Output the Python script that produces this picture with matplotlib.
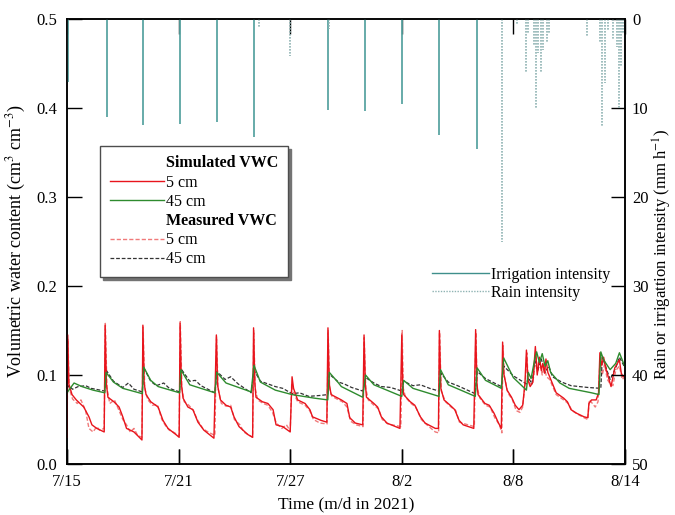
import matplotlib
matplotlib.use("Agg")
import matplotlib.pyplot as plt
from matplotlib.lines import Line2D

plt.rcParams["font.family"] = ["Liberation Serif", "DejaVu Serif"]
plt.rcParams["mathtext.fontset"] = "stix"
plt.rcParams["font.size"] = 12

# -----------------------------
# Data (days since 7/15/2021)
# -----------------------------
tick_days = [0, 6, 12, 18, 24, 30]
tick_labels = ["7/15", "7/21", "7/27", "8/2", "8/8", "8/14"]

# simulated VWC, 5 cm
sim5_day = [0.00, 0.04, 0.10, 0.27, 0.50, 0.90, 1.18, 1.34, 1.60, 2.00,
            2.05, 2.12, 2.20, 2.52, 2.80, 3.00, 3.20, 3.60, 4.03,
            4.08, 4.15, 4.25, 4.50, 4.90, 5.16, 5.43, 5.86, 6.03,
            6.08, 6.15, 6.24, 6.50, 6.77, 7.04, 7.36, 7.90,
            8.03, 8.10, 8.25, 8.55, 8.80, 8.98, 9.25, 9.73, 9.98,
            10.03, 10.10, 10.16, 10.50, 10.80, 11.08, 11.24, 11.60, 12.00,
            12.10, 12.18, 12.40, 12.80, 13.06, 13.20, 13.66, 13.97,
            14.03, 14.10, 14.20, 14.57, 14.75, 15.05, 15.20, 15.50, 15.90,
            15.97, 16.04, 16.10, 16.50, 16.70, 16.90, 17.20, 17.90,
            18.00, 18.05, 18.10, 18.45, 18.70, 19.00, 19.25, 19.80, 19.97,
            20.02, 20.10, 20.27, 20.60, 20.85, 21.08, 21.30, 21.87,
            21.97, 22.04, 22.10, 22.47, 22.70, 22.96, 23.20, 23.35,
            23.42, 23.48, 23.66, 23.90, 24.10, 24.30, 24.50, 24.62, 24.70, 24.78,
            24.90, 25.05, 25.18, 25.28, 25.40, 25.50, 25.58, 25.68, 25.75, 25.85,
            25.95, 26.30, 26.70, 26.90, 27.10, 27.40, 27.80, 28.00, 28.06, 28.20,
            28.45, 28.58, 28.65, 28.75, 28.85, 29.00, 29.10, 29.25, 29.45, 29.70,
            29.80, 29.90, 30.00]
sim5_vwc = [0.030, 0.145, 0.090, 0.078, 0.072, 0.064, 0.053, 0.044, 0.040, 0.036,
            0.156, 0.090, 0.075, 0.070, 0.064, 0.053, 0.040, 0.036, 0.027,
            0.156, 0.090, 0.078, 0.070, 0.064, 0.049, 0.040, 0.033, 0.030,
            0.158, 0.090, 0.074, 0.064, 0.061, 0.047, 0.038, 0.029,
            0.145, 0.088, 0.072, 0.066, 0.064, 0.053, 0.042, 0.033, 0.030,
            0.153, 0.090, 0.075, 0.070, 0.068, 0.061, 0.044, 0.042, 0.036,
            0.098, 0.085, 0.072, 0.068, 0.061, 0.053, 0.049, 0.047,
            0.153, 0.090, 0.078, 0.074, 0.072, 0.068, 0.052, 0.046, 0.044,
            0.145, 0.090, 0.075, 0.068, 0.064, 0.053, 0.046, 0.040,
            0.145, 0.090, 0.078, 0.070, 0.066, 0.053, 0.046, 0.040, 0.040,
            0.150, 0.085, 0.072, 0.066, 0.061, 0.049, 0.044, 0.040,
            0.151, 0.090, 0.078, 0.068, 0.066, 0.057, 0.046, 0.040,
            0.137, 0.102, 0.083, 0.075, 0.066, 0.061, 0.066, 0.090, 0.128, 0.095,
            0.087, 0.092, 0.132, 0.100, 0.120, 0.105, 0.113, 0.102, 0.118, 0.103,
            0.098, 0.080, 0.074, 0.070, 0.061, 0.057, 0.053, 0.052, 0.068, 0.072,
            0.072, 0.080, 0.125, 0.111, 0.120, 0.105, 0.098, 0.087, 0.108, 0.117,
            0.102, 0.098, 0.100]

# measured VWC, 5 cm
meas5_day = [0.00, 0.05, 0.12, 0.30, 0.55, 0.75, 1.00, 1.18, 1.40, 1.60, 1.75, 2.00,
             2.06, 2.15, 2.30, 2.55, 2.80, 3.00, 3.20, 3.40, 3.60, 3.80, 4.03,
             4.09, 4.18, 4.35, 4.60, 4.85, 5.10, 5.30, 5.50, 5.70, 6.03,
             6.09, 6.18, 6.30, 6.55, 6.80, 7.00, 7.30, 7.50, 7.95,
             8.04, 8.12, 8.30, 8.55, 8.80, 9.00, 9.30, 9.50, 9.98,
             10.04, 10.12, 10.25, 10.55, 10.80, 11.05, 11.25, 11.55, 11.80, 12.00,
             12.08, 12.18, 12.40, 12.80, 13.05, 13.25, 13.60, 13.98,
             14.04, 14.12, 14.25, 14.60, 14.80, 15.05, 15.25, 15.55, 15.92,
             15.98, 16.06, 16.20, 16.50, 16.75, 16.95, 17.25, 17.95,
             18.02, 18.08, 18.20, 18.50, 18.75, 19.05, 19.35, 19.80, 19.98,
             20.03, 20.12, 20.35, 20.65, 20.90, 21.10, 21.40, 21.90,
             21.98, 22.06, 22.20, 22.50, 22.75, 23.00, 23.25, 23.38,
             23.44, 23.52, 23.70, 23.95, 24.15, 24.35, 24.50, 24.65, 24.72, 24.80,
             24.95, 25.10, 25.20, 25.30, 25.42, 25.55, 25.65, 25.78, 25.95, 26.30,
             26.70, 26.95, 27.15, 27.45, 27.80, 28.00, 28.08, 28.25, 28.40, 28.55,
             28.66, 28.78, 28.90, 29.05, 29.20, 29.35, 29.50, 29.70, 29.85, 30.00]
meas5_vwc = [0.030, 0.140, 0.085, 0.073, 0.068, 0.072, 0.060, 0.040, 0.036, 0.042, 0.038, 0.040,
             0.158, 0.085, 0.068, 0.072, 0.060, 0.050, 0.044, 0.036, 0.040, 0.032, 0.030,
             0.154, 0.085, 0.072, 0.066, 0.067, 0.050, 0.043, 0.038, 0.036, 0.032,
             0.160, 0.085, 0.070, 0.066, 0.060, 0.050, 0.040, 0.037, 0.032,
             0.143, 0.085, 0.068, 0.065, 0.066, 0.050, 0.044, 0.036, 0.030,
             0.150, 0.085, 0.072, 0.068, 0.066, 0.058, 0.046, 0.040, 0.044, 0.037,
             0.090, 0.080, 0.070, 0.066, 0.060, 0.050, 0.046, 0.045,
             0.150, 0.085, 0.076, 0.072, 0.070, 0.064, 0.048, 0.044, 0.042,
             0.142, 0.085, 0.072, 0.066, 0.062, 0.050, 0.045, 0.042,
             0.150, 0.085, 0.075, 0.068, 0.064, 0.050, 0.044, 0.036, 0.035,
             0.148, 0.082, 0.070, 0.064, 0.060, 0.047, 0.045, 0.042,
             0.148, 0.085, 0.074, 0.066, 0.064, 0.052, 0.044, 0.035,
             0.133, 0.098, 0.080, 0.072, 0.060, 0.058, 0.064, 0.095, 0.125, 0.092,
             0.090, 0.098, 0.125, 0.103, 0.115, 0.100, 0.110, 0.098, 0.095, 0.078,
             0.072, 0.068, 0.060, 0.056, 0.052, 0.050, 0.072, 0.068, 0.064, 0.070,
             0.118, 0.100, 0.112, 0.095, 0.090, 0.088, 0.105, 0.110, 0.095, 0.098]

# simulated VWC, 45 cm
sim45_day = [0.00, 0.10, 0.38, 0.80, 1.40, 2.03, 2.10, 2.50, 3.00, 4.05,
             4.12, 4.50, 4.90, 6.05, 6.12, 6.60, 7.95, 8.05, 8.55, 9.90,
             10.05, 10.40, 11.20, 12.10, 13.30, 14.02, 14.10, 14.60, 14.75, 15.90,
             16.05, 16.50, 18.00, 18.10, 18.60, 20.00, 20.08, 20.50, 21.95, 22.05,
             22.50, 23.35, 23.48, 24.00, 24.70, 24.80, 24.95, 25.15, 25.25, 25.40,
             25.55, 25.70, 25.85, 26.00, 26.50, 27.00, 28.20, 28.60, 28.70, 28.85,
             29.20, 29.50, 29.70, 30.00]
sim45_vwc = [0.080, 0.083, 0.091, 0.087, 0.083, 0.080, 0.103, 0.092, 0.085, 0.079,
             0.109, 0.094, 0.087, 0.080, 0.106, 0.089, 0.080, 0.103, 0.091, 0.081,
             0.111, 0.092, 0.083, 0.078, 0.074, 0.072, 0.103, 0.091, 0.087, 0.075,
             0.100, 0.089, 0.076, 0.094, 0.085, 0.076, 0.106, 0.089, 0.076, 0.108,
             0.094, 0.085, 0.119, 0.097, 0.083, 0.103, 0.096, 0.118, 0.126, 0.114,
             0.124, 0.110, 0.116, 0.103, 0.091, 0.085, 0.080, 0.078, 0.126, 0.117,
             0.106, 0.113, 0.125, 0.109]

# measured VWC, 45 cm
meas45_day = [0.00, 0.10, 0.30, 0.60, 1.00, 1.30, 2.03, 2.12, 2.50, 3.00, 3.30, 3.60, 4.05,
              4.13, 4.50, 4.80, 5.20, 5.50, 6.05, 6.13, 6.60, 6.90, 7.20, 7.95,
              8.06, 8.50, 8.80, 9.20, 9.90, 10.06, 10.40, 10.80, 11.20, 11.60,
              12.10, 12.50, 13.00, 13.60, 14.02, 14.10, 14.60, 14.90, 15.30, 15.90,
              16.06, 16.50, 16.90, 17.40, 18.00, 18.10, 18.60, 19.00, 19.50, 20.00,
              20.10, 20.50, 21.00, 21.95, 22.05, 22.50, 23.35, 23.48, 24.00, 24.70,
              24.80, 25.00, 25.15, 25.30, 25.50, 25.70, 25.90, 26.10, 26.60, 27.10,
              28.00, 28.70, 28.78, 28.95, 29.20, 29.50, 29.70, 30.00]
meas45_vwc = [0.085, 0.088, 0.084, 0.087, 0.088, 0.085, 0.082, 0.105, 0.093, 0.086, 0.091, 0.084, 0.081,
              0.108, 0.093, 0.088, 0.091, 0.085, 0.081, 0.107, 0.093, 0.094, 0.088, 0.080,
              0.104, 0.095, 0.098, 0.090, 0.080, 0.105, 0.093, 0.090, 0.087, 0.085,
              0.079, 0.080, 0.076, 0.077, 0.078, 0.101, 0.092, 0.090, 0.086, 0.082,
              0.097, 0.091, 0.087, 0.086, 0.082, 0.093, 0.088, 0.089, 0.085, 0.082,
              0.102, 0.092, 0.088, 0.079, 0.104, 0.096, 0.087, 0.110, 0.099, 0.090,
              0.097, 0.090, 0.116, 0.105, 0.118, 0.103, 0.110, 0.098, 0.092, 0.088,
              0.086, 0.085, 0.120, 0.110, 0.095, 0.108, 0.120, 0.108]

# irrigation and rain intensity (mm/h)
irr_day = [0.05, 2.13, 4.09, 6.08, 8.06, 10.05, 14.03, 16.0, 18.0, 20.0, 22.04]
irr_int = [7.1, 11.0, 11.9, 11.8, 11.6, 13.3, 10.2, 10.3, 9.5, 13.0, 14.6]

rain_day = [10.3, 12.0, 14.1, 23.4, 24.2, 24.7, 24.8, 25.1, 25.2, 25.3, 25.5, 25.6,
            25.8, 25.9, 27.95, 28.65, 28.77, 28.9, 29.1, 29.35, 29.55, 29.7, 29.8, 29.9]
rain_int = [1.0, 4.2, 1.1, 25.1, 0.7, 6.1, 1.6, 2.9, 10.0, 3.8, 6.1, 3.5,
            2.7, 1.6, 2.0, 2.6, 12.1, 7.2, 1.2, 2.4, 3.1, 10.0, 5.4, 1.6]

# -----------------------------
# Colours
# -----------------------------
RED = "#e8141c"
RED_MEAS = "#f07a7a"
GREEN = "#2e8b2e"
BLACK_MEAS = "#333333"
TEAL = "#5aa5a2"
RAIN = "#8fb3b3"

fig = plt.figure(figsize=(6.75, 5.15), dpi=100)
ax = fig.add_axes([67 / 675, 51 / 515, 558 / 675, 445 / 515])
ax2 = ax.twinx()

# VWC lines
l_s5, = ax.plot(sim5_day, sim5_vwc, color=RED, lw=1.0, zorder=3)
l_m5, = ax.plot(meas5_day, meas5_vwc, color=RED_MEAS, lw=1.0, ls="--", dashes=(3, 1.5), zorder=2)
l_s45, = ax.plot(sim45_day, sim45_vwc, color=GREEN, lw=1.0, zorder=3)
l_m45, = ax.plot(meas45_day, meas45_vwc, color=BLACK_MEAS, lw=0.9, ls="--", dashes=(3, 1.5), zorder=2)

# irrigation and rain (hanging from the top)
ax2.vlines(irr_day, 0, irr_int, color=TEAL, lw=1.3)
ax2.vlines(rain_day, 0, rain_int, color=RAIN, lw=1.2, linestyles=(0, (1, 0.8)))

# axes ranges
ax.set_xlim(0, 30)
ax.set_ylim(0, 0.5)
ax2.set_ylim(50, 0)

ax.set_xticks(tick_days)
ax.set_xticklabels(tick_labels)
ax.set_yticks([0, 0.1, 0.2, 0.3, 0.4, 0.5])
ax.set_yticklabels(["0.0", "0.1", "0.2", "0.3", "0.4", "0.5"])
ax2.set_yticks([0, 10, 20, 30, 40, 50])

ax.tick_params(axis="both", direction="in", length=11, width=1.0, pad=7, labelsize=12,
               right=False)
ax2.tick_params(axis="y", direction="in", length=10, width=1.0, pad=5, labelsize=12)
ax2.xaxis.set_visible(True)
ax2.tick_params(axis="x", direction="in", length=11, width=1.0, top=True, bottom=True,
                labelbottom=False, labeltop=False)

for a in (ax, ax2):
    for s in a.spines.values():
        s.set_linewidth(1.1)

ax.set_xlabel("Time (m/d in 2021)", fontsize=12.5, labelpad=5)
ax.set_ylabel(r"Volumetric water content (cm$^3$ cm$^{-3}$)", fontsize=13)
ax.yaxis.set_label_coords(-0.070, 0.5)
ax2.set_ylabel(r"Rain or irrigattion intensity (mm h$^{-1}$)", fontsize=12)
ax2.yaxis.set_label_coords(1.047, 0.47)

# VWC legend with headings
blank = Line2D([], [], color="none")
leg1 = ax2.legend([blank, l_s5, l_s45, blank, l_m5, l_m45],
                  ["Simulated VWC", "5 cm", "45 cm", "Measured VWC", "5 cm", "45 cm"],
                  loc="upper left", bbox_to_anchor=(0.06, 0.715), fontsize=11.5,
                  handlelength=3.4, handletextpad=0.1, labelspacing=0.2,
                  borderpad=0.6, borderaxespad=0, fancybox=False,
                  shadow={"color": "0.45", "alpha": 1.0},
                  framealpha=1.0, edgecolor="0.3")
leg1.get_frame().set_linewidth(1.0)
for i in (0, 3):
    leg1.get_texts()[i].set_fontweight("bold")
ax2.add_artist(leg1)

# intensity legend
h_irr = Line2D([], [], color="#3f8f8b", lw=1.0)
h_rain = Line2D([], [], color=RAIN, lw=1.0, ls=(0, (1, 1)))
ax2.legend([h_irr, h_rain], ["Irrigation intensity", "Rain intensity"],
           loc="center left", bbox_to_anchor=(0.628, 0.405), fontsize=11.5, frameon=False,
           handlelength=3.6, handletextpad=0.1, labelspacing=0.1)

fig.savefig("out.png", dpi=100)
